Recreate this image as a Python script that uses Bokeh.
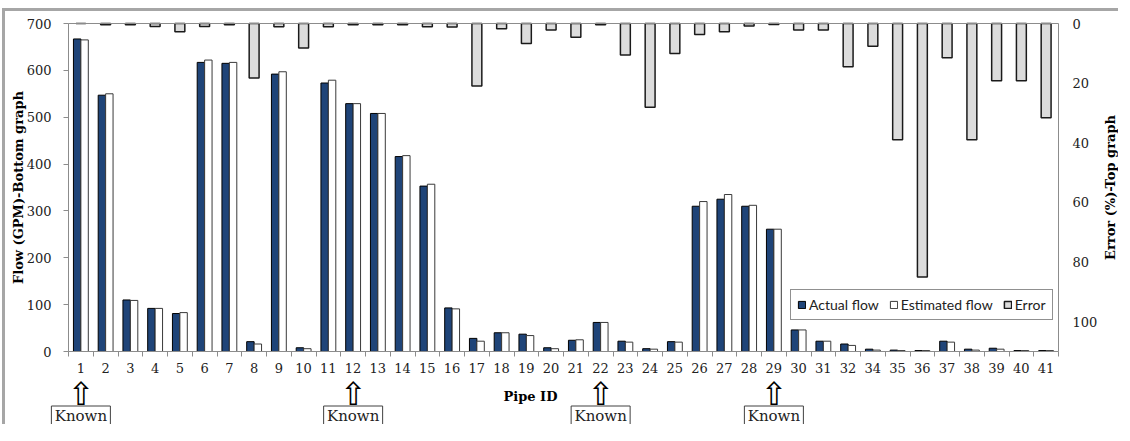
import numpy as np
from bokeh.plotting import figure
from bokeh.models import (Range1d, LinearAxis, FixedTicker, Legend,
                          LegendItem, ColumnDataSource)
from bokeh.core.properties import value
from bokeh.embed import file_html
from bokeh.resources import INLINE

pipe_ids = ["1", "2", "3", "4", "5", "6", "7", "8", "9", "10", "11", "12", "13",
            "14", "15", "16", "17", "18", "19", "20", "21", "22", "23", "24", "25",
            "26", "27", "28", "29", "30", "31", "32", "34", "35", "36", "37", "38",
            "39", "40", "41"]
actual_flow = [667, 547, 110, 92, 81, 617, 615, 21, 592, 8, 573, 529, 508,
               416, 353, 93, 28, 40, 37, 8, 24, 62, 22, 6, 21,
               310, 325, 310, 261, 46, 22, 16, 5, 3, 2, 22, 5,
               7, 2, 2]
estimated_flow = [665, 550, 109, 92, 83, 622, 617, 16, 597, 6, 579, 529, 508,
                  418, 357, 91, 22, 40, 34, 6, 25, 62, 20, 5, 20,
                  320, 335, 312, 261, 46, 22, 13, 3, 2, 2, 20, 3,
                  5, 2, 2]
error_pct = [0, 0.4, 0.4, 1.0, 2.8, 1.0, 0.4, 18.3, 1.1, 8.2, 1.1, 0.4, 0.4,
             0.4, 1.1, 1.2, 21.0, 1.8, 6.7, 2.2, 4.6, 0.4, 10.6, 28.1, 10.1,
             3.7, 2.8, 0.8, 0.3, 2.2, 2.2, 14.5, 7.6, 39.0, 85.0, 11.5, 39.0,
             19.2, 19.2, 31.6]
known_ids = ["1", "12", "22", "29"]
flow_ticks = [0, 100, 200, 300, 400, 500, 600, 700]
error_ticks = [0, 20, 40, 60, 80, 100]
flow_max = 700
error_max = 110

# ---- layout (screen pixels) ----
OX, OY = 6, 12             # canvas origin on the page
W, H = 1116, 416           # canvas size
FL, FR, FT, FB = 69, 1059, 24, 352   # chart area edges on the page

n = len(pipe_ids)
ux = (FR - FL) / n                       # px per category
fpp = flow_max / (FB - FT)               # flow units per px
epp = error_max / (FB - FT)              # error units per px

def xs(px):
    return (px - FL) / ux

def ys(py):
    return (FB - py) * fpp

xc = np.arange(n) + 0.5
src = ColumnDataSource(dict(x=xc, xa=xc - 0.15, xe=xc + 0.15,
                            actual=actual_flow, est=estimated_flow, err=error_pct))

SERIF = "DejaVu Serif"
AXC = "#8c8c8c"
p = figure(width=W, height=H,
           x_range=Range1d(xs(OX), xs(OX + W)),
           y_range=Range1d(ys(OY + H), ys(OY)),
           output_backend="svg", toolbar_location=None,
           min_border=0, min_border_left=0, min_border_right=0,
           min_border_top=0, min_border_bottom=0)
p.styles = {"margin-left": "2px", "margin-top": "8px",
            "border-left": "3px solid #a6a6a6", "border-top": "3px solid #a6a6a6"}
p.extra_y_ranges = {"err": Range1d(start=(OY + H - FT) * epp, end=(OY - FT) * epp)}
p.xgrid.visible = False
p.ygrid.visible = False
p.outline_line_color = None

r1 = p.vbar(x="xa", top="actual", bottom=0, width=0.3, source=src,
            fill_color="#1f4478", line_color="black", line_width=1)
r2 = p.vbar(x="xe", top="est", bottom=0, width=0.3, source=src,
            fill_color="white", line_color="#3a3a3a", line_width=1)
r3 = p.vbar(x="x", top=0, bottom="err", width=0.4, source=src, y_range_name="err",
            fill_color="#dcdcdc", line_color="#1a1a1a", line_width=1.5)

# bottom (category) axis
xa = p.below[0]
xa.fixed_location = 0
xa.bounds = (0, n)
xa.ticker = FixedTicker(ticks=list(xc), minor_ticks=list(range(n + 1)))
xa.major_label_overrides = {float(x): pid for x, pid in zip(xc, pipe_ids)}
xa.major_tick_out = 0
xa.major_tick_in = 0
xa.minor_tick_out = 5
xa.minor_tick_in = 0
xa.minor_tick_line_color = AXC
xa.axis_line_color = AXC
xa.major_label_text_font = SERIF
xa.major_label_text_font_size = "13px"
xa.major_label_text_color = "#222222"
xa.major_label_standoff = 6

# top line of the chart area
ta = LinearAxis(fixed_location=flow_max, bounds=(0, n), ticker=FixedTicker(ticks=[]))
ta.axis_line_color = AXC
ta.major_tick_line_color = None
ta.minor_tick_line_color = None
p.add_layout(ta, "above")

# left (flow) axis
ya = p.left[0]
ya.fixed_location = 0
ya.bounds = (0, flow_max)
ya.ticker = FixedTicker(ticks=flow_ticks)
ya.major_tick_out = 5
ya.major_tick_in = 0
ya.minor_tick_line_color = None
ya.axis_line_color = AXC
ya.major_tick_line_color = AXC
ya.major_label_text_font = SERIF
ya.major_label_text_font_size = "13px"
ya.major_label_text_color = "#222222"
ya.major_label_standoff = 12

# right (error) axis
ra = LinearAxis(y_range_name="err", ticker=FixedTicker(ticks=error_ticks),
                fixed_location=n, bounds=(0, error_max))
ra.major_tick_out = 0
ra.major_tick_in = 0
ra.minor_tick_line_color = None
ra.axis_line_color = AXC
ra.major_label_text_font = SERIF
ra.major_label_text_font_size = "13px"
ra.major_label_text_color = "#222222"
ra.major_label_standoff = 14
p.add_layout(ra, "right")

# axis titles
title_kw = dict(text_align="center", text_baseline="middle",
                text_font=value(SERIF), text_font_size="13px",
                text_font_style="bold", text_color="black")
p.text(x=[xs(19)], y=[ys(188)], text=["Flow (GPM)-Bottom graph"], angle=np.pi / 2,
       **title_kw)
p.text(x=[xs(1111)], y=[ys(188)], text=["Error (%)-Top graph"], angle=np.pi / 2,
       **title_kw)
p.text(x=[xs(531)], y=[ys(397)], text=["Pipe ID"], **title_kw)

# "Known" markers
known_x = [pipe_ids.index(k) + 0.5 for k in known_ids]
ksrc = ColumnDataSource(dict(x=known_x, arrow=["\u21e7"] * len(known_x),
                             lab=["Known"] * len(known_x)))
p.text(x="x", y=ys(394), text="arrow", source=ksrc, text_align="center",
       text_baseline="middle", text_font=value("DejaVu Sans"),
       text_font_size="32px", text_color="black")
p.rect(x="x", y=ys(416), width=59, height=19, width_units="screen",
       height_units="screen", source=ksrc, fill_color="white",
       line_color="#404040", line_width=1)
p.text(x="x", y=ys(416), text="lab", source=ksrc, text_align="center",
       text_baseline="middle", text_font=value(SERIF), text_font_size="15px",
       text_color="#222222")

legend = Legend(items=[LegendItem(label="Actual flow", renderers=[r1]),
                       LegendItem(label="Estimated flow", renderers=[r2]),
                       LegendItem(label="Error", renderers=[r3])],
                orientation="horizontal", location=(791 - OX, OY + H - 321))
legend.label_text_font = "Lato"
legend.label_text_font_size = "14px"
legend.label_text_color = "#222222"
legend.glyph_width = 9
legend.glyph_height = 9
legend.label_height = 15
legend.label_standoff = 3
legend.spacing = 10
legend.padding = 6
legend.margin = 0
legend.border_line_color = "#222222"
legend.border_line_width = 1
legend.background_fill_color = "white"
p.add_layout(legend)

open("out.html", "w").write(file_html(p, INLINE))
